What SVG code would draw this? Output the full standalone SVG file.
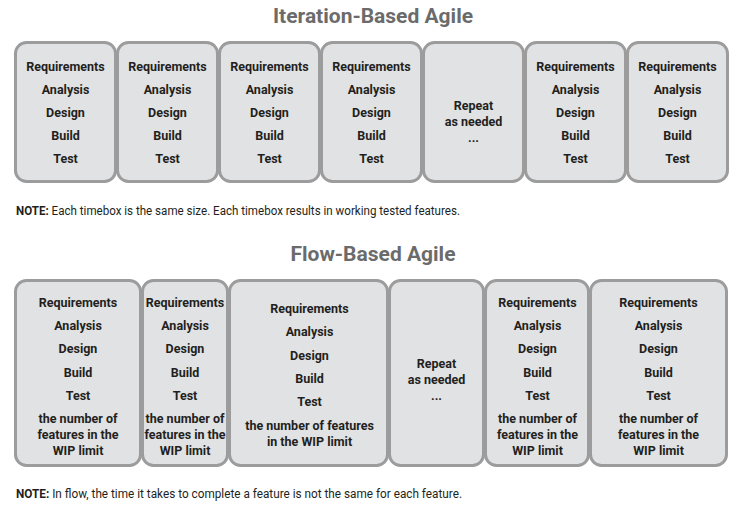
<svg xmlns="http://www.w3.org/2000/svg" width="736" height="506" viewBox="0 0 736 506">
<style>
.bg{fill:#ffffff}
.box{fill:#e1e2e4;stroke:#9c9c9c;stroke-width:3}
.t{font-family:Roboto,"Liberation Sans",sans-serif;font-weight:bold;font-size:12.5px;fill:#231f20;text-anchor:middle}
.title{font-family:Roboto,"Liberation Sans",sans-serif;font-weight:bold;font-size:21px;fill:#6b6b6b;text-anchor:middle}
.note{font-family:Roboto,"Liberation Sans",sans-serif;font-size:12px;fill:#231f20}
.nb{font-weight:bold}
</style>
<rect class="bg" x="0" y="0" width="736" height="506"/>
<text class="title" x="373" y="23">Iteration-Based Agile</text>
<text class="title" x="373" y="261">Flow-Based Agile</text>

<g id="iter1"><rect class="box" x="15.5" y="42.5" width="100" height="139" rx="11"/>
<text class="t" x="65.5" y="71">Requirements</text><text class="t" x="65.5" y="94">Analysis</text><text class="t" x="65.5" y="117">Design</text><text class="t" x="65.5" y="140">Build</text><text class="t" x="65.5" y="163">Test</text></g>
<g id="iter2"><rect class="box" x="117.5" y="42.5" width="100" height="139" rx="11"/>
<text class="t" x="167.5" y="71">Requirements</text><text class="t" x="167.5" y="94">Analysis</text><text class="t" x="167.5" y="117">Design</text><text class="t" x="167.5" y="140">Build</text><text class="t" x="167.5" y="163">Test</text></g>
<g id="iter3"><rect class="box" x="219.5" y="42.5" width="100" height="139" rx="11"/>
<text class="t" x="269.5" y="71">Requirements</text><text class="t" x="269.5" y="94">Analysis</text><text class="t" x="269.5" y="117">Design</text><text class="t" x="269.5" y="140">Build</text><text class="t" x="269.5" y="163">Test</text></g>
<g id="iter4"><rect class="box" x="321.5" y="42.5" width="100" height="139" rx="11"/>
<text class="t" x="371.5" y="71">Requirements</text><text class="t" x="371.5" y="94">Analysis</text><text class="t" x="371.5" y="117">Design</text><text class="t" x="371.5" y="140">Build</text><text class="t" x="371.5" y="163">Test</text></g>
<g id="iter-repeat"><rect class="box" x="423.5" y="42.5" width="100" height="139" rx="11"/>
<text class="t" x="473.5" y="110">Repeat</text><text class="t" x="473.5" y="126">as needed</text><text class="t" x="473.5" y="142">...</text></g>
<g id="iter5"><rect class="box" x="525.5" y="42.5" width="100" height="139" rx="11"/>
<text class="t" x="575.5" y="71">Requirements</text><text class="t" x="575.5" y="94">Analysis</text><text class="t" x="575.5" y="117">Design</text><text class="t" x="575.5" y="140">Build</text><text class="t" x="575.5" y="163">Test</text></g>
<g id="iter6"><rect class="box" x="627.5" y="42.5" width="100" height="139" rx="11"/>
<text class="t" x="677.5" y="71">Requirements</text><text class="t" x="677.5" y="94">Analysis</text><text class="t" x="677.5" y="117">Design</text><text class="t" x="677.5" y="140">Build</text><text class="t" x="677.5" y="163">Test</text></g>

<text class="note" x="16" y="215" textLength="444" lengthAdjust="spacingAndGlyphs"><tspan class="nb">NOTE:</tspan> Each timebox is the same size. Each timebox results in working tested features.</text>

<g id="flow1"><rect class="box" x="15.5" y="280.5" width="125" height="185" rx="11"/>
<text class="t" x="78" y="307">Requirements</text><text class="t" x="78" y="330">Analysis</text><text class="t" x="78" y="353">Design</text><text class="t" x="78" y="377">Build</text><text class="t" x="78" y="400">Test</text><text class="t" x="78" y="423">the number of</text><text class="t" x="78" y="439">features in the</text><text class="t" x="78" y="455">WIP limit</text></g>
<g id="flow2"><rect class="box" x="142.5" y="280.5" width="85" height="185" rx="11"/>
<text class="t" x="185" y="307">Requirements</text><text class="t" x="185" y="330">Analysis</text><text class="t" x="185" y="353">Design</text><text class="t" x="185" y="377">Build</text><text class="t" x="185" y="400">Test</text><text class="t" x="185" y="423">the number of</text><text class="t" x="185" y="439">features in the</text><text class="t" x="185" y="455">WIP limit</text></g>
<g id="flow3"><rect class="box" x="229.5" y="280.5" width="158" height="185" rx="11"/>
<text class="t" x="309.5" y="313">Requirements</text><text class="t" x="309.5" y="336">Analysis</text><text class="t" x="309.5" y="360">Design</text><text class="t" x="309.5" y="383">Build</text><text class="t" x="309.5" y="406">Test</text><text class="t" x="309.5" y="430">the number of features</text><text class="t" x="309.5" y="446">in the WIP limit</text></g>
<g id="flow-repeat"><rect class="box" x="389.5" y="280.5" width="94" height="185" rx="11"/>
<text class="t" x="436.5" y="368">Repeat</text><text class="t" x="436.5" y="384">as needed</text><text class="t" x="436.5" y="400">...</text></g>
<g id="flow4"><rect class="box" x="485.5" y="280.5" width="103" height="185" rx="11"/>
<text class="t" x="537.5" y="307">Requirements</text><text class="t" x="537.5" y="330">Analysis</text><text class="t" x="537.5" y="353">Design</text><text class="t" x="537.5" y="377">Build</text><text class="t" x="537.5" y="400">Test</text><text class="t" x="537.5" y="423">the number of</text><text class="t" x="537.5" y="439">features in the</text><text class="t" x="537.5" y="455">WIP limit</text></g>
<g id="flow5"><rect class="box" x="590.5" y="280.5" width="136" height="185" rx="11"/>
<text class="t" x="658.5" y="307">Requirements</text><text class="t" x="658.5" y="330">Analysis</text><text class="t" x="658.5" y="353">Design</text><text class="t" x="658.5" y="377">Build</text><text class="t" x="658.5" y="400">Test</text><text class="t" x="658.5" y="423">the number of</text><text class="t" x="658.5" y="439">features in the</text><text class="t" x="658.5" y="455">WIP limit</text></g>

<text class="note" x="16" y="498" textLength="446" lengthAdjust="spacingAndGlyphs"><tspan class="nb">NOTE:</tspan> In flow, the time it takes to complete a feature is not the same for each feature.</text>
<g id="connectors"></g>
</svg>
